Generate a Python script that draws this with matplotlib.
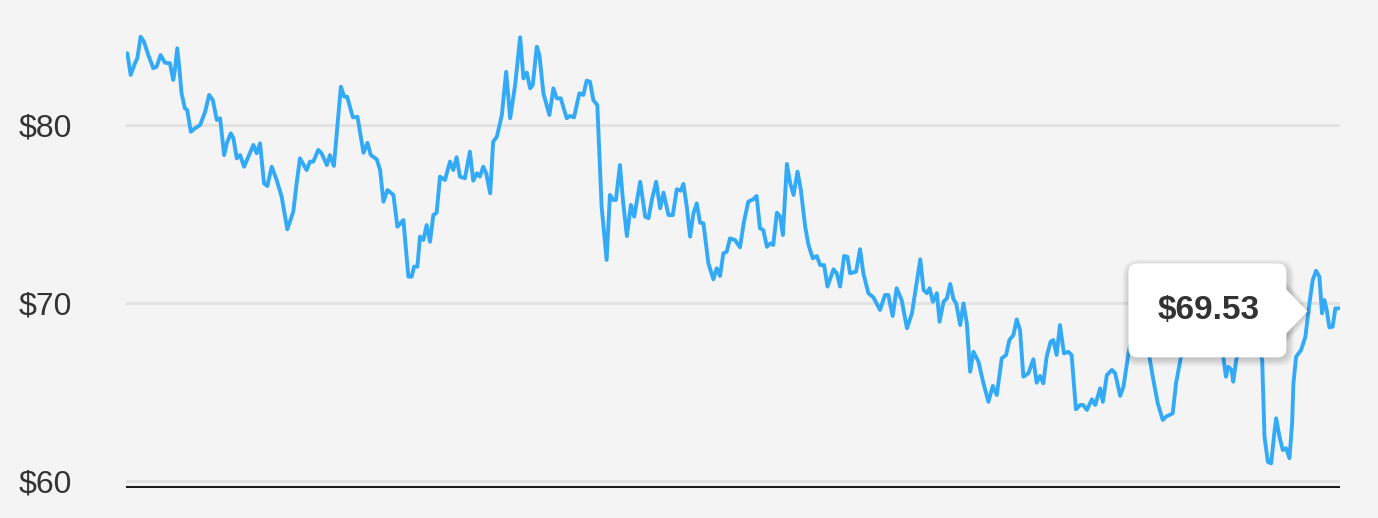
import matplotlib.pyplot as plt
from matplotlib.patches import FancyBboxPatch, Polygon
from matplotlib.transforms import IdentityTransform

# price series (day of year, price in $)
days = [0.4, 1.4, 2.7, 3.4, 4.4, 5.4, 6.7, 8.2, 9.2, 10.4, 11.7, 13.2, 14.2, 14.7, 15.4, 16.0, 16.7, 17.7,
        18.4, 19.5, 20.7, 22.3, 23.8, 25.0, 26.1, 27.3, 28.3, 29.5, 30.3, 31.5, 32.3, 33.3, 34.3, 35.5,
        36.8, 38.3, 39.3, 40.3, 41.5, 42.5, 43.8, 45.3, 46.8, 48.5, 50.3, 51.3, 52.3, 54.3, 55.3, 56.3,
        57.8, 58.8, 60.4, 61.3,
        62.5, 64.6, 65.6, 66.5, 68.2, 69.6, 71.4, 72.6, 73.6, 75.4, 76.4, 77.4, 78.6, 80.4, 81.6, 83.4,
        84.9, 85.9, 86.6, 87.6, 88.4, 89.4, 90.4, 91.4, 92.4, 93.4, 94.4, 95.9, 97.4, 98.4, 99.4, 100.4,
        101.9, 103.4, 104.4, 105.5, 106.4, 107.4, 108.3, 109.5, 110.4, 111.5, 113.0, 114.3, 115.5, 117.0,
        118.5, 119.5,
        120.5, 121.5, 122.3, 123.5, 124.3, 125.5, 127.3, 128.5, 129.5, 130.7, 132.5, 133.5, 134.7, 136.3,
        137.5, 138.5, 139.5, 140.5, 141.7, 143.0, 144.5, 145.5, 146.5, 147.3, 148.5, 149.5, 150.6, 151.8,
        152.8, 154.6, 156.1, 157.1, 158.1, 159.4, 160.6, 161.6, 163.1, 164.4, 165.6, 166.8, 167.6, 168.6,
        169.6, 170.6, 171.6, 172.6, 173.6, 175.1, 176.6, 177.6, 178.6,
        179.6, 180.6, 181.6, 183.1, 184.6, 185.8, 187.1, 188.6, 189.6, 190.6, 191.6, 192.7, 193.7, 194.6,
        195.7, 196.7, 197.5, 198.7, 199.7, 200.7, 201.9, 202.9, 204.2, 205.2, 206.5, 207.7, 208.7, 209.9,
        210.9, 212.7, 213.7, 214.7, 215.9, 216.9, 217.7, 219.5, 220.7, 221.7, 223.2, 224.7, 226.7, 228.2,
        229.2, 230.5, 231.7, 233.2, 234.8, 236.3, 238.8,
        239.8, 240.8, 241.6, 242.6, 243.8, 244.6, 245.8, 246.8, 247.8, 248.8, 249.6, 250.8, 251.8, 252.8,
        253.8, 254.8, 256.3, 257.8, 259.3, 260.6, 261.8, 263.3, 264.6, 265.6, 266.8, 267.8, 268.8, 269.8,
        271.3, 272.8, 273.8, 274.8, 275.8, 276.8, 278.0, 278.8, 279.8, 280.8, 282.0, 283.3, 284.3, 285.6,
        286.9, 287.8, 288.9, 290.4, 291.4, 292.9, 293.7, 294.9, 296.4, 297.4, 298.9, 299.9, 301.4,
        303.0, 304.5, 306.0, 307.7, 308.7, 310.2, 311.7, 312.7, 313.7, 314.7, 315.7, 317.1, 318.4, 320.5,
        322.3, 324.1, 325.9, 327.7, 329.9, 330.7, 331.4, 332.4, 332.9, 333.8, 335.6, 337.4, 339.5, 341.6,
        342.3, 343.3, 344.3, 345.3, 345.8, 346.8, 347.8, 348.8, 349.8, 350.6, 351.0, 351.8, 353.3, 354.6,
        355.8, 356.8, 357.8, 358.8, 359.6, 360.3, 361.0, 361.8, 362.8, 363.6, 364.8]

prices = [84.03, 82.81, 83.47, 83.75, 84.96, 84.68, 83.93, 83.19, 83.28, 83.93, 83.50, 83.47, 82.53, 83.09,
          84.31, 83.28, 81.78, 80.94, 80.84, 79.62, 79.81, 80.00, 80.75, 81.69, 81.40, 80.28, 80.38, 78.31,
          78.97, 79.53, 79.25, 78.13, 78.31, 77.66, 78.22, 78.88, 78.41, 78.97, 76.72, 76.57, 77.66, 76.91,
          75.97, 74.14, 75.13, 76.72, 78.13, 77.47, 77.94, 77.94, 78.60, 78.41, 77.75, 78.31,
          77.70, 82.15, 81.59, 81.59, 80.43, 80.46, 78.44, 79.00, 78.31, 78.07, 77.47, 75.69, 76.35, 76.07,
          74.29, 74.66, 71.48, 71.48, 72.04, 72.04, 73.73, 73.54, 74.38, 73.44, 74.94, 75.07, 77.10, 76.91,
          77.94, 77.47, 78.19, 77.10, 77.01, 78.50, 76.87, 77.29, 77.10, 77.66, 77.29, 76.16, 79.06, 79.34,
          80.56, 82.99, 80.38, 82.25, 84.93, 82.62,
          82.94, 82.06, 82.25, 84.40, 83.93, 81.78, 80.56, 82.06, 81.50, 81.50, 80.38, 80.51, 80.43, 81.78,
          81.69, 82.49, 82.43, 81.40, 81.12, 75.41, 72.42, 76.07, 75.79, 75.79, 77.75, 75.60, 73.76, 75.51,
          74.85, 76.81, 74.85, 74.76, 75.79, 76.81, 75.32, 76.20, 74.94, 74.94, 76.39, 76.31, 76.69, 75.41,
          73.73, 75.04, 75.60, 74.51, 74.48, 72.23, 71.33, 71.95, 71.52,
          72.79, 72.88, 73.63, 73.54, 73.13, 74.57, 75.69, 75.83, 76.01, 74.20, 74.10, 73.16, 73.35, 73.26,
          75.07, 74.85, 73.82, 77.81, 76.72, 76.07, 77.38, 76.35, 74.29, 73.26, 72.51, 72.64, 72.13, 72.13,
          70.92, 71.89, 71.67, 70.92, 72.64, 72.60, 71.67, 71.76, 73.02, 71.67, 70.55, 70.32, 69.61, 70.45,
          70.45, 69.27, 70.83, 70.17, 68.58, 69.42, 72.45,
          70.73, 70.55, 70.83, 70.07, 70.55, 68.95, 70.07, 70.26, 71.07, 70.21, 69.98, 68.76, 69.98, 68.86,
          66.14, 67.26, 66.70, 65.49, 64.45, 65.34, 64.83, 66.89, 67.08, 67.92, 68.20, 69.08, 68.48, 65.86,
          66.05, 66.84, 65.52, 65.90, 65.49, 66.98, 67.83, 67.92, 67.08, 68.76, 67.17, 67.26, 67.08, 64.03,
          64.27, 64.27, 63.99, 64.59, 64.27, 65.21, 64.45, 65.95, 66.24, 66.05, 64.78, 65.30, 67.17,
          68.48, 69.04, 68.20, 66.98, 65.86, 64.37, 63.43, 63.61, 63.71, 63.80, 65.49, 66.89, 68.20, 69.32,
          68.48, 69.49, 68.76, 67.92, 66.98, 65.86, 66.42, 66.24, 65.58, 66.80, 67.92, 68.48, 68.20, 66.80,
          62.49, 61.08, 60.99, 62.77, 63.52, 62.49, 61.74, 61.84, 61.28, 63.24, 65.49, 66.98, 67.36, 68.11,
          69.98, 71.29, 71.81, 71.48, 69.42, 70.17, 69.61, 68.63, 68.67, 69.70, 69.70]

y_ticks = [60, 70, 80]
y_labels = ["$60", "$70", "$80"]

tooltip_day = 355.2
tooltip_price = 69.53

BG = "#f4f4f4"
LINE = "#33aaf7"

plt.rcParams["font.family"] = ["Liberation Sans", "DejaVu Sans"]

fig = plt.figure(figsize=(13.78, 5.18), dpi=100, facecolor=BG)
ax = fig.add_axes([126 / 1378, 0.05768, 1214 / 1378, 0.89])
ax.set_facecolor(BG)
ax.set_xlim(0, 365)
ax.set_ylim(59.6, 85.5)

for t in y_ticks:
    ax.axhline(t, color="#e2e2e2", lw=2.2, zorder=1)
# baseline
ax.axhline(59.66, color="#1c1c1c", lw=2.2, zorder=2)

ax.plot(days, prices, color=LINE, lw=2.8, solid_joinstyle="round",
        solid_capstyle="round", zorder=3)

ax.set_yticks(y_ticks, y_labels)
ax.tick_params(axis="y", length=0, pad=39, labelsize=23, labelcolor="#333333")
ax.set_xticks([])
for s in ax.spines.values():
    s.set_visible(False)

# tooltip, drawn in pixel coords around the hovered point
tx, ty = ax.transData.transform((tooltip_day, tooltip_price))
x0, x1 = tx - 179, tx - 21
y0, y1 = ty - 46, ty + 48
ident = IdentityTransform()

for i in range(1, 9):
    sh = FancyBboxPatch((x0 - i + 2, y0 - i - 1), (x1 - x0) + 2 * i - 2, (y1 - y0) + 2 * i - 3,
                        boxstyle="round,pad=0,rounding_size=%d" % (9 + i),
                        transform=ident, facecolor="black", edgecolor="none", alpha=0.025)
    fig.add_artist(sh)
    shp = Polygon([(x1 - 2, ty + 25 + i), (tx + i * 0.8, ty - 1), (x1 - 2, ty - 27 - i)],
                  closed=True, transform=ident, facecolor="black", edgecolor="none", alpha=0.02)
    fig.add_artist(shp)

box = FancyBboxPatch((x0, y0), x1 - x0, y1 - y0, boxstyle="round,pad=0,rounding_size=9",
                     transform=ident, facecolor="white", edgecolor="none")
fig.add_artist(box)
ptr = Polygon([(x1 - 3, ty + 25), (tx, ty), (x1 - 3, ty - 25)], closed=True,
              transform=ident, facecolor="white", edgecolor="none")
fig.add_artist(ptr)
fig.text((x0 + x1) / 2 + 1, ty + 1, "$%.2f" % tooltip_price, transform=ident,
         ha="center", va="center", fontsize=24, fontweight="bold", color="#333333")

fig.savefig("out.png", dpi=100, facecolor=BG)
